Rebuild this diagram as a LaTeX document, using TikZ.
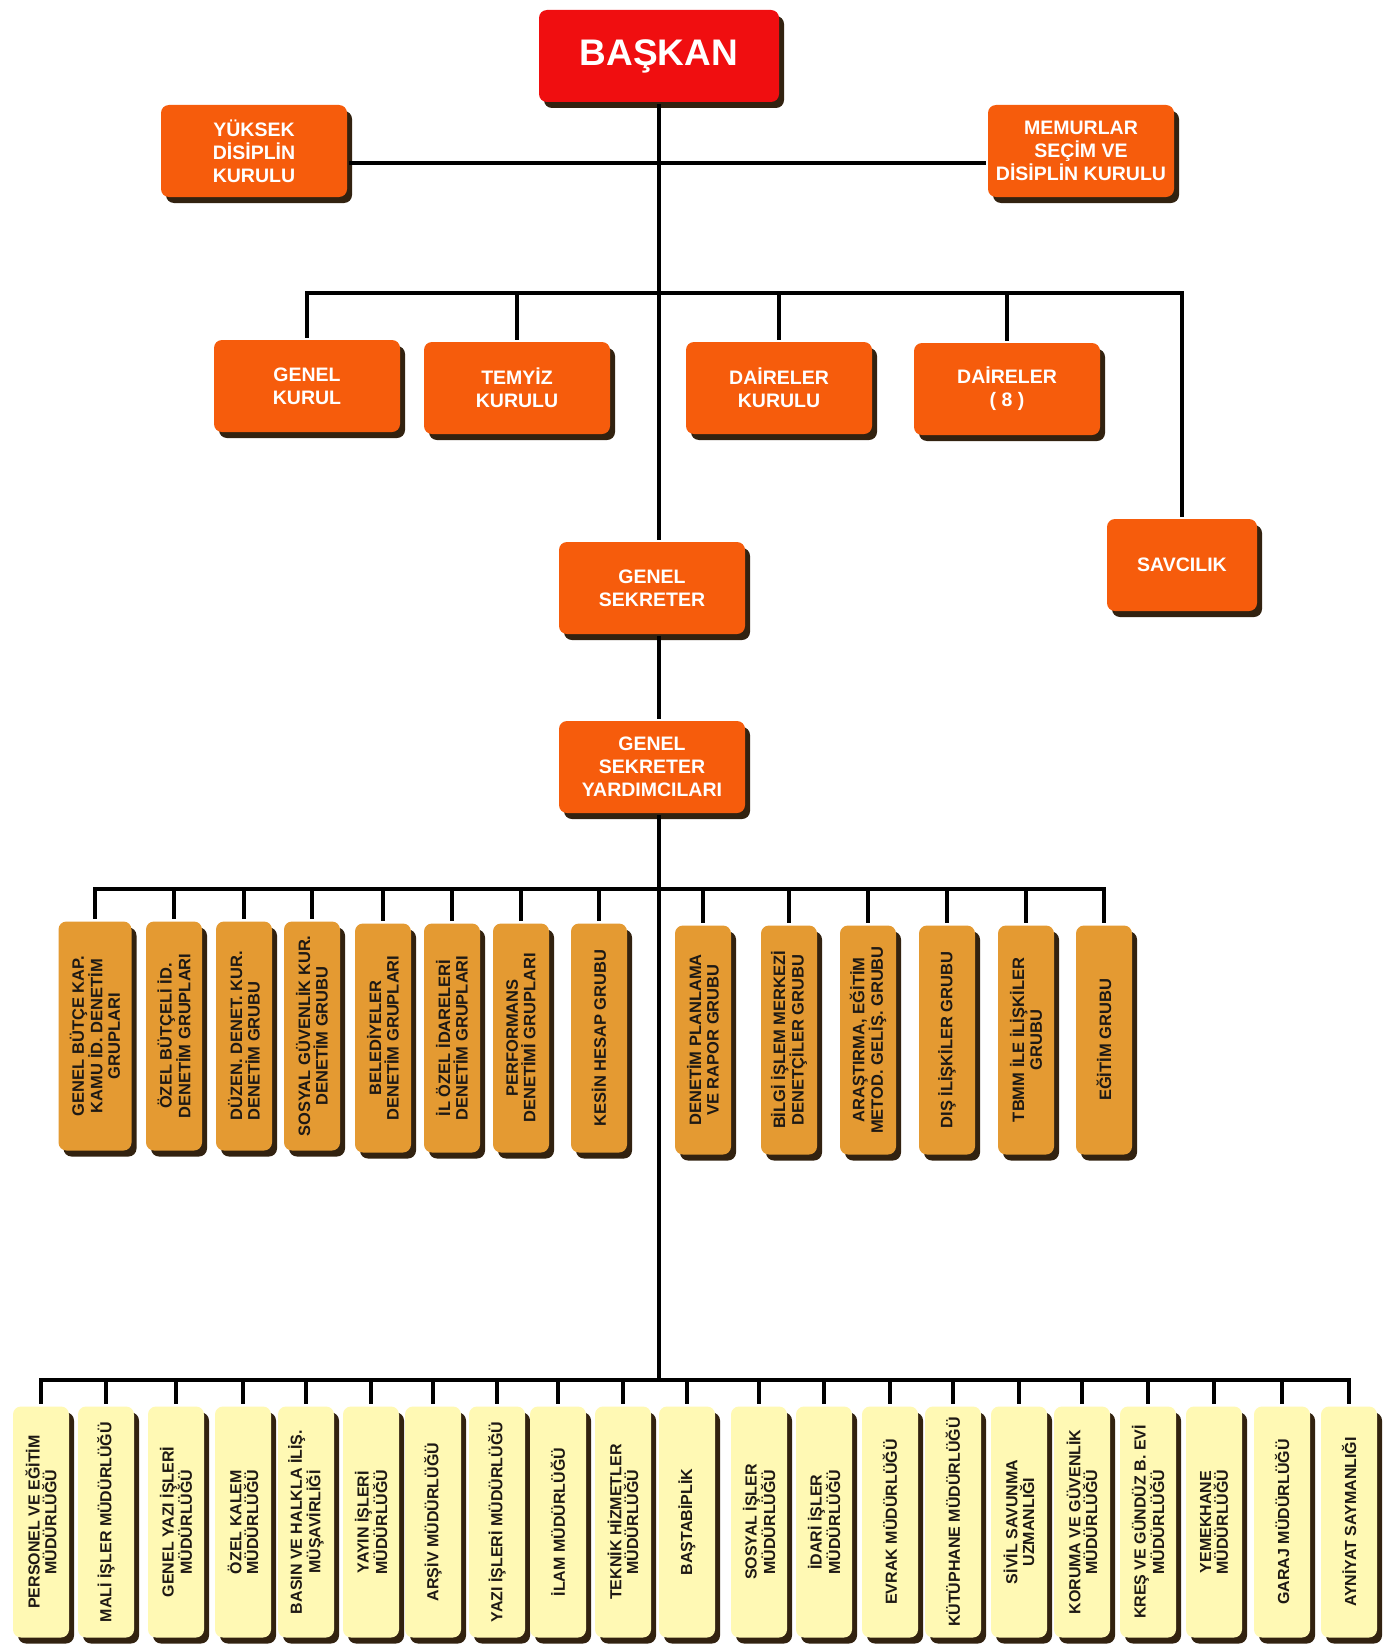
\documentclass[tikz,border=0pt]{standalone}
\usepackage{fontspec}
\setmainfont{Liberation Sans}
\usetikzlibrary{shadows}

\definecolor{baskanred}{RGB}{240,14,16}
\definecolor{kurulorange}{RGB}{246,92,12}
\definecolor{grupamber}{RGB}{228,154,50}
\definecolor{mudyellow}{RGB}{255,249,180}
\definecolor{boxshadow}{RGB}{50,34,16}
\definecolor{textdark}{RGB}{30,25,20}

\begin{document}
\begin{tikzpicture}[x=1pt, y=-1pt, line width=4.5pt,
    boxshadow/.style={drop shadow={shadow xshift=5pt, shadow yshift=-6pt, fill=boxshadow, opacity=1}},
    flatbox/.style={boxshadow, rounded corners=8pt, inner sep=3pt, align=center},
    upbox/.style={boxshadow, rotate=90, rounded corners=8pt, inner sep=3pt, align=center},
    baskanbox/.style={flatbox, fill=baskanred, text=white, minimum width=240pt, minimum height=92pt,
                      font=\fontsize{37}{40}\selectfont\bfseries},
    kurulbox/.style={flatbox, fill=kurulorange, text=white, minimum width=186pt, minimum height=92pt,
                     font=\fontsize{19.5}{23}\selectfont\bfseries},
    grupbox/.style={upbox, fill=grupamber, text=textdark, minimum width=229pt, minimum height=56pt,
                    font=\fontsize{16.5}{17.5}\selectfont\bfseries},
    mudbox/.style={upbox, fill=mudyellow, text=textdark, minimum width=231pt, minimum height=56pt,
                   font=\fontsize{16}{16.8}\selectfont\bfseries}]
    \useasboundingbox[fill=white] (0,0) rectangle (1390,1651);

    % ust kademe
    \node[baskanbox] (baskan) at (659,56) {\raisebox{-4pt}{BAŞKAN}};
    \node[kurulbox] (yuksek) at (254,151) {YÜKSEK\\DİSİPLİN\\KURULU};
    \node[kurulbox] (memurlar) at (1081,151) {MEMURLAR\\SEÇİM VE\\DİSİPLİN KURULU};

    % kurullar
    \node[kurulbox] (genelkurul) at (307,386) {GENEL\\KURUL};
    \node[kurulbox] (temyiz) at (517,388) {TEMYİZ\\KURULU};
    \node[kurulbox] (dkurulu) at (779,388) {DAİRELER\\KURULU};
    \node[kurulbox] (daireler) at (1007,389) {DAİRELER\\( 8 )};
    \node[kurulbox, minimum width=150pt] (savcilik) at (1182,565) {SAVCILIK};
    \node[kurulbox] (gs) at (652,588) {GENEL\\SEKRETER};
    \node[kurulbox] (gsy) at (652,767) {GENEL\\SEKRETER\\YARDIMCILARI};

    % denetim gruplari
    \node[grupbox, minimum height=73pt] (g1) at (95,1036) {GENEL BÜTÇE KAP.\\KAMU İD. DENETİM\\GRUPLARI};
    \node[grupbox] (g2) at (174,1036) {ÖZEL BÜTÇELİ İD.\\DENETİM GRUPLARI};
    \node[grupbox, align=left] (g3) at (244,1036) {DÜZEN. DENET. KUR.\\DENETİM GRUBU};
    \node[grupbox] (g4) at (312,1036) {SOSYAL GÜVENLİK KUR.\\DENETİM GRUBU};
    \node[grupbox] (g5) at (383,1038) {BELEDİYELER\\DENETİM GRUPLARI};
    \node[grupbox] (g6) at (452,1038) {İL ÖZEL İDARELERİ\\DENETİM GRUPLARI};
    \node[grupbox] (g7) at (521,1038) {PERFORMANS\\DENETİMİ GRUPLARI};
    \node[grupbox] (g8) at (599,1038) {KESİN HESAP GRUBU};
    \node[grupbox] (g9) at (703,1040) {DENETİM PLANLAMA\\VE RAPOR GRUBU};
    \node[grupbox] (g10) at (789,1040) {BİLGİ İŞLEM MERKEZİ\\DENETÇİLER GRUBU};
    \node[grupbox] (g11) at (868,1040) {ARAŞTIRMA, EĞİTİM\\METOD. GELİŞ. GRUBU};
    \node[grupbox] (g12) at (947,1040) {DIŞ İLİŞKİLER GRUBU};
    \node[grupbox] (g13) at (1026,1040) {TBMM İLE İLİŞKİLER\\GRUBU};
    \node[grupbox] (g14) at (1104,1040) {EĞİTİM GRUBU};

    % mudurlukler
    \node[mudbox] (m1) at (41,1522) {PERSONEL VE EĞİTİM\\MÜDÜRLÜĞÜ};
    \node[mudbox] (m2) at (106,1522) {MALİ İŞLER MÜDÜRLÜĞÜ};
    \node[mudbox] (m3) at (176,1522) {GENEL YAZI İŞLERİ\\MÜDÜRLÜĞÜ};
    \node[mudbox] (m4) at (243,1522) {ÖZEL KALEM\\MÜDÜRLÜĞÜ};
    \node[mudbox] (m5) at (306,1522) {BASIN VE HALKLA İLİŞ.\\MÜŞAVİRLİĞİ};
    \node[mudbox] (m6) at (371,1522) {YAYIN İŞLERİ\\MÜDÜRLÜĞÜ};
    \node[mudbox] (m7) at (433,1522) {ARŞİV MÜDÜRLÜĞÜ};
    \node[mudbox] (m8) at (497,1522) {YAZI İŞLERİ MÜDÜRLÜĞÜ};
    \node[mudbox] (m9) at (558,1522) {İLAM MÜDÜRLÜĞÜ};
    \node[mudbox] (m10) at (623,1522) {TEKNİK HİZMETLER\\MÜDÜRLÜĞÜ};
    \node[mudbox] (m11) at (687,1522) {BAŞTABİPLİK};
    \node[mudbox] (m12) at (759,1522) {SOSYAL İŞLER\\MÜDÜRLÜĞÜ};
    \node[mudbox] (m13) at (824,1522) {İDARİ İŞLER\\MÜDÜRLÜĞÜ};
    \node[mudbox] (m14) at (890,1522) {EVRAK MÜDÜRLÜĞÜ};
    \node[mudbox] (m15) at (953,1522) {KÜTÜPHANE MÜDÜRLÜĞÜ};
    \node[mudbox] (m16) at (1019,1522) {SİVİL SAVUNMA\\UZMANLIĞI};
    \node[mudbox] (m17) at (1082,1522) {KORUMA VE GÜVENLİK\\MÜDÜRLÜĞÜ};
    \node[mudbox] (m18) at (1148,1522) {KREŞ VE GÜNDÜZ B. EVİ\\MÜDÜRLÜĞÜ};
    \node[mudbox] (m19) at (1214,1522) {YEMEKHANE\\MÜDÜRLÜĞÜ};
    \node[mudbox] (m20) at (1282,1522) {GARAJ MÜDÜRLÜĞÜ};
    \node[mudbox] (m21) at (1349,1522) {AYNİYAT SAYMANLIĞI};

    \coordinate (bus1) at (659,293);
    \coordinate (bus2) at (659,889);
    \coordinate (bus3) at (659,1380);

    % ana hat
    \draw (baskan.south) -- (baskan.south |- gs.north);
    \draw (baskan.south |- gs.south) -- (baskan.south |- gsy.north);
    \draw (baskan.south |- gsy.south) -- (bus3);
    \draw ([yshift=-12pt]yuksek.east) -- ([yshift=-12pt]memurlar.west);

    % kurullar hatti
    \draw[line cap=rect] (genelkurul.north |- bus1) -- (savcilik.north |- bus1);
    \draw (genelkurul.north |- bus1) -- (genelkurul.north)
          (temyiz.north |- bus1) -- (temyiz.north)
          (dkurulu.north |- bus1) -- (dkurulu.north)
          (daireler.north |- bus1) -- (daireler.north)
          (savcilik.north |- bus1) -- (savcilik.north);

    % gruplar hatti
    \draw[line cap=rect] (g1.east |- bus2) -- (g14.east |- bus2);
    \draw (g1.east |- bus2) -- (g1.east)   (g2.east |- bus2) -- (g2.east)
          (g3.east |- bus2) -- (g3.east)   (g4.east |- bus2) -- (g4.east)
          (g5.east |- bus2) -- (g5.east)   (g6.east |- bus2) -- (g6.east)
          (g7.east |- bus2) -- (g7.east)   (g8.east |- bus2) -- (g8.east)
          (g9.east |- bus2) -- (g9.east)   (g10.east |- bus2) -- (g10.east)
          (g11.east |- bus2) -- (g11.east) (g12.east |- bus2) -- (g12.east)
          (g13.east |- bus2) -- (g13.east) (g14.east |- bus2) -- (g14.east);

    % mudurlukler hatti
    \draw[line cap=rect] (m1.east |- bus3) -- (m21.east |- bus3);
    \draw (m1.east |- bus3) -- (m1.east)   (m2.east |- bus3) -- (m2.east)
          (m3.east |- bus3) -- (m3.east)   (m4.east |- bus3) -- (m4.east)
          (m5.east |- bus3) -- (m5.east)   (m6.east |- bus3) -- (m6.east)
          (m7.east |- bus3) -- (m7.east)   (m8.east |- bus3) -- (m8.east)
          (m9.east |- bus3) -- (m9.east)   (m10.east |- bus3) -- (m10.east)
          (m11.east |- bus3) -- (m11.east) (m12.east |- bus3) -- (m12.east)
          (m13.east |- bus3) -- (m13.east) (m14.east |- bus3) -- (m14.east)
          (m15.east |- bus3) -- (m15.east) (m16.east |- bus3) -- (m16.east)
          (m17.east |- bus3) -- (m17.east) (m18.east |- bus3) -- (m18.east)
          (m19.east |- bus3) -- (m19.east) (m20.east |- bus3) -- (m20.east)
          (m21.east |- bus3) -- (m21.east);
\end{tikzpicture}
\end{document}
